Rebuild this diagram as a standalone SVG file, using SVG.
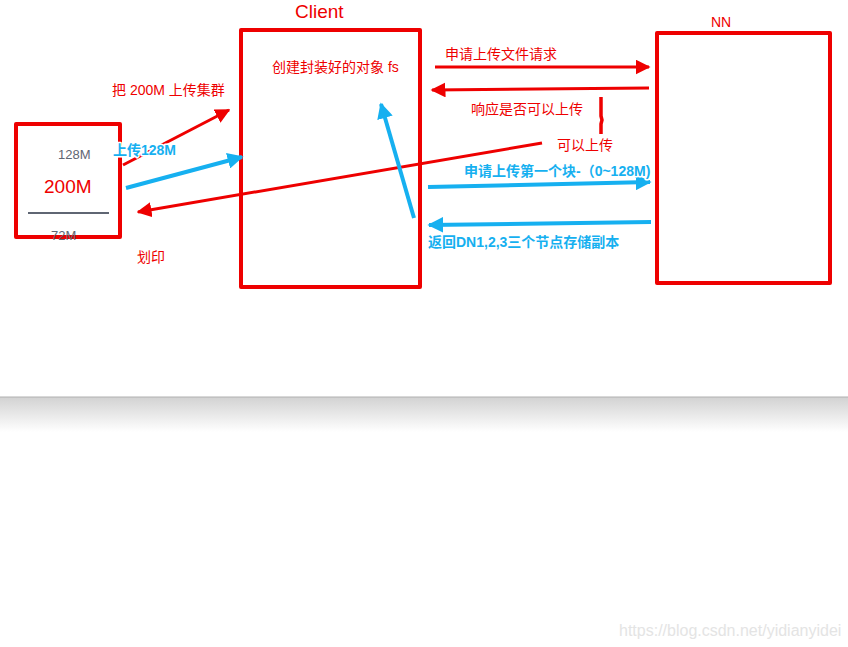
<svg xmlns="http://www.w3.org/2000/svg" width="848" height="647" viewBox="0 0 848 647">
<defs>
<marker id="ar" viewBox="0 0 10 10" refX="9" refY="5" markerWidth="5" markerHeight="5" markerUnits="strokeWidth" orient="auto"><path d="M0,0 L10,5 L0,10 z" fill="#ee0000"/></marker>
<marker id="ab" viewBox="0 0 10 10" refX="9" refY="5" markerWidth="4" markerHeight="4" markerUnits="strokeWidth" orient="auto"><path d="M0,0 L10,5 L0,10 z" fill="#16b0f0"/></marker>
<linearGradient id="sh" x1="0" y1="0" x2="0" y2="1"><stop offset="0" stop-color="#d2d2d2"/><stop offset="1" stop-color="#ffffff"/></linearGradient>
</defs>
<style>
.box{fill:none;stroke:#ee0000;stroke-width:4;stroke-linejoin:round}
.rt{font-family:"Liberation Sans","Noto Sans CJK SC",sans-serif;fill:#ee0000;font-size:14px}
.gt{font-family:"Liberation Sans","Noto Sans CJK SC",sans-serif;fill:#5f6673;font-size:13px}
.bt{font-family:"Liberation Sans","Noto Sans CJK SC",sans-serif;fill:#16b0f0;font-size:14px;font-weight:bold;stroke:#ffffff;stroke-width:3;paint-order:stroke;stroke-linejoin:round}
.rl{stroke:#ee0000;stroke-width:3;fill:none}
.bl{stroke:#16b0f0;stroke-width:4;fill:none}
</style>
<rect width="848" height="647" fill="#ffffff"/>
<rect x="0" y="397" width="848" height="35" fill="url(#sh)"/>
<line x1="0" y1="397" x2="848" y2="397" stroke="#b0b0b0" stroke-width="1"/>

<g id="block">
<rect class="box" x="16" y="124" width="104" height="113"/>
<text class="gt" x="58" y="159">128M</text>
<text x="44" y="193" font-family="Liberation Sans,sans-serif" font-size="19" fill="#ee0000">200M</text>
<line x1="28" y1="213" x2="109" y2="213" stroke="#5f6673" stroke-width="2"/>
<text class="gt" x="51" y="240">72M</text>
</g>

<g id="client">
<rect class="box" x="241" y="30" width="179" height="257"/>
<text x="295" y="18" font-family="Liberation Sans,sans-serif" font-size="19" fill="#ee0000">Client</text>
<text class="rt" x="272" y="72">创建封装好的对象 fs</text>
</g>

<g id="nn">
<rect class="box" x="657" y="33" width="173" height="250"/>
<text class="rt" x="711" y="27">NN</text>
</g>

<g id="connectors">
<line class="rl" x1="123" y1="165" x2="229" y2="110" marker-end="url(#ar)"/>
<line class="bl" x1="126" y1="188" x2="242" y2="157" marker-end="url(#ab)"/>
<line class="rl" x1="542" y1="143" x2="138" y2="212" marker-end="url(#ar)"/>
<line class="bl" x1="414" y1="218" x2="381" y2="104" marker-end="url(#ab)"/>
<line class="rl" x1="435" y1="67" x2="649" y2="67" marker-end="url(#ar)"/>
<line class="rl" x1="649" y1="88" x2="432" y2="90" marker-end="url(#ar)"/>
<path d="M601,97 L601,116 L602,120 L601,124 L601,134" stroke="#ee0000" stroke-width="3.5" fill="none"/>
<line class="bl" x1="428" y1="187" x2="650" y2="182" marker-end="url(#ab)"/>
<line class="bl" x1="651" y1="222" x2="429" y2="225" marker-end="url(#ab)"/>
</g>

<g id="labels">
<text class="rt" x="112" y="95" font-size="13.5">把 200M 上传集群</text>
<text class="bt" x="113" y="155">上传128M</text>
<text class="rt" x="137" y="262">划印</text>
<text class="rt" x="445" y="59">申请上传文件请求</text>
<text class="rt" x="471" y="114">响应是否可以上传</text>
<text class="rt" x="557" y="150">可以上传</text>
<text class="bt" x="464" y="176">申请上传第一个块-（0~128M)</text>
<text class="bt" x="428" y="247">返回DN1,2,3三个节点存储副本</text>
</g>
<text x="619" y="636" font-family="Liberation Sans,sans-serif" font-size="16" fill="#e4e4e4">https://blog.csdn.net/yidianyidei</text>
</svg>
